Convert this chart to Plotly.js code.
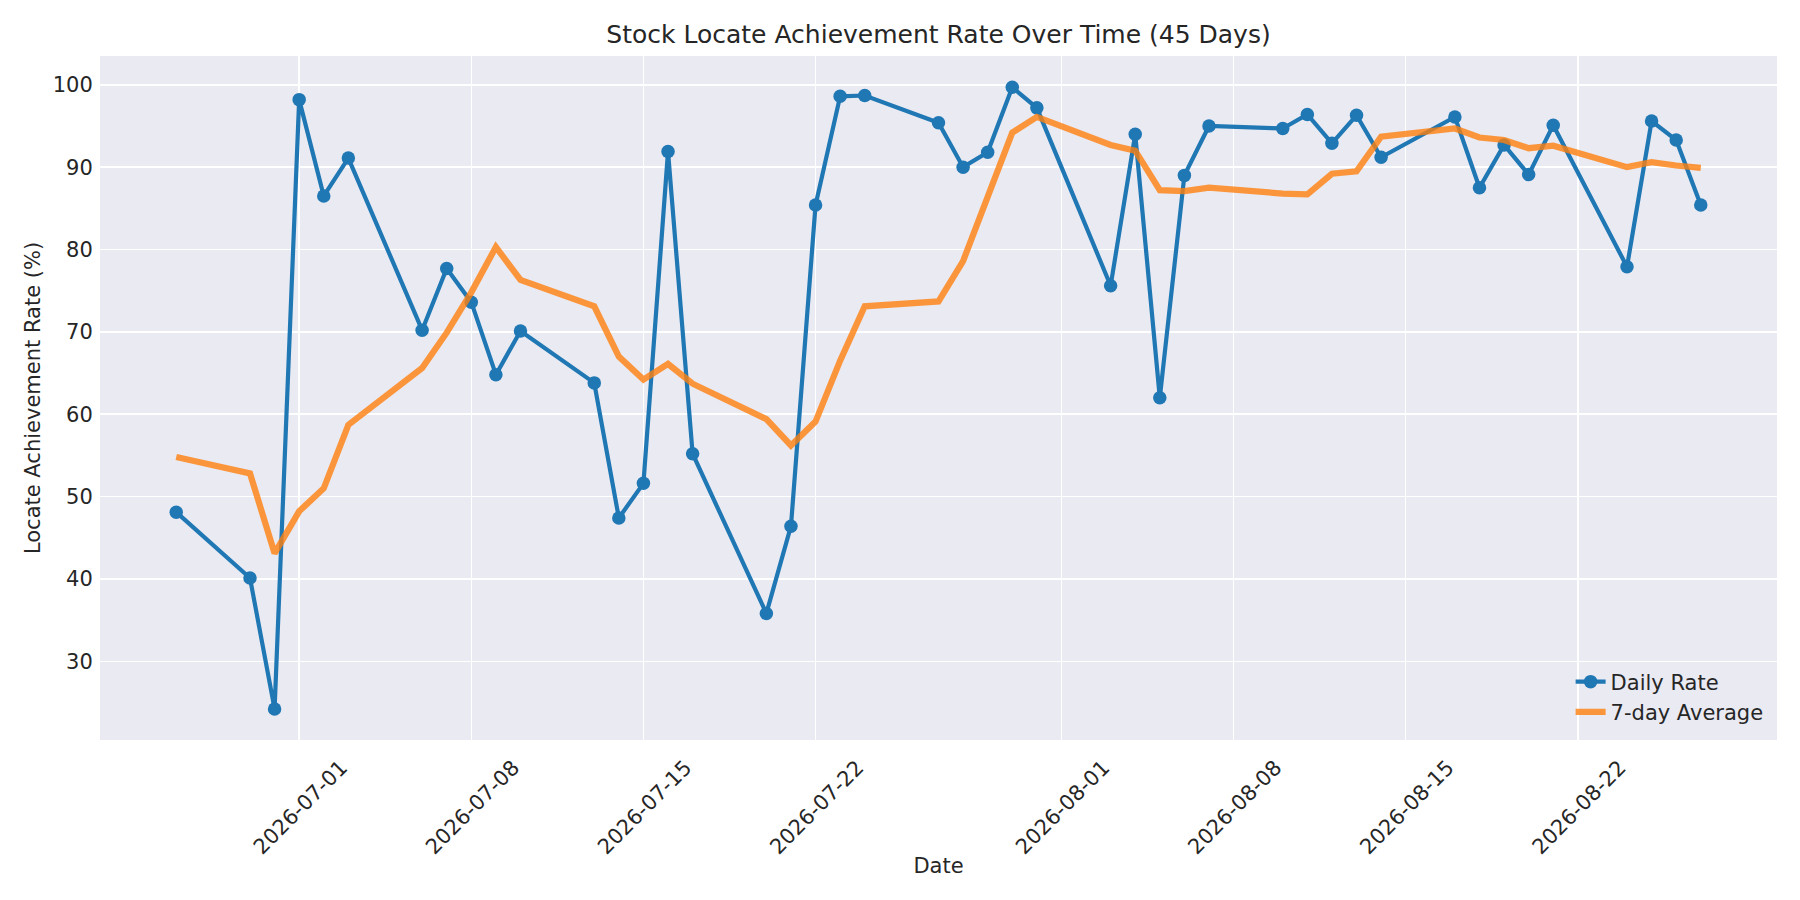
<!DOCTYPE html>
<html>
<head>
<meta charset="utf-8">
<script src="https://cdn.plot.ly/plotly-3.0.1.min.js"></script>
<style>
html,body{margin:0;padding:0;background:#fff;}
#chart{width:1800px;height:900px;}
</style>
</head>
<body>
<div id="chart"></div>
<script>
const dates = [
  "2026-06-26","2026-06-29","2026-06-30","2026-07-01","2026-07-02","2026-07-03",
  "2026-07-06","2026-07-07","2026-07-08","2026-07-09","2026-07-10",
  "2026-07-13","2026-07-14","2026-07-15","2026-07-16","2026-07-17",
  "2026-07-20","2026-07-21","2026-07-22","2026-07-23","2026-07-24",
  "2026-07-27","2026-07-28","2026-07-29","2026-07-30","2026-07-31",
  "2026-08-03","2026-08-04","2026-08-05","2026-08-06","2026-08-07",
  "2026-08-10","2026-08-11","2026-08-12","2026-08-13","2026-08-14",
  "2026-08-17","2026-08-18","2026-08-19","2026-08-20","2026-08-21",
  "2026-08-24","2026-08-25","2026-08-26","2026-08-27"
];
const dailyRate = [
  48.1, 40.1, 24.2, 98.2, 86.5, 91.1,
  70.2, 77.7, 73.6, 64.8, 70.1,
  63.8, 47.4, 51.6, 91.9, 55.2,
  35.8, 46.4, 85.4, 98.6, 98.7,
  95.4, 90.0, 91.8, 99.7, 97.2,
  75.6, 94.0, 62.0, 89.0, 95.0,
  94.7, 96.4, 92.9, 96.3, 91.2,
  96.1, 87.5, 92.7, 89.1, 95.1,
  77.9, 95.6, 93.3, 85.4
];
const avg7 = [
  54.8, 52.8, 43.1, 48.2, 51.0, 58.7,
  65.6, 69.9, 74.8, 80.3, 76.3,
  73.1, 67.0, 64.2, 66.1, 63.7,
  59.4, 56.2, 59.1, 66.5, 73.1,
  73.7, 78.6, 86.5, 94.2, 96.1,
  92.7, 92.0, 87.2, 87.1, 87.5,
  86.8, 86.7, 89.2, 89.5, 93.7,
  94.7, 93.6, 93.3, 92.3, 92.6,
  90.0, 90.6, 90.2, 89.9
];
const xTickVals = ["2026-07-01","2026-07-08","2026-07-15","2026-07-22","2026-08-01","2026-08-08","2026-08-15","2026-08-22"];
const yTickVals = [30, 40, 50, 60, 70, 80, 90, 100];

const font = "DejaVu Sans, sans-serif";
const textColor = "#262626";

const traces = [
  {
    x: dates, y: dailyRate, type: "scatter", mode: "lines+markers", name: "Daily Rate",
    line: {color: "#1f77b4", width: 4.2},
    marker: {color: "#1f77b4", size: 13.5}
  },
  {
    x: dates, y: avg7, type: "scatter", mode: "lines", name: "7-day Average",
    line: {color: "#ff7f0e", width: 6.25}, opacity: 0.8
  }
];

const layout = {
  width: 1800, height: 900,
  margin: {l: 100, r: 23, t: 56, b: 160},
  paper_bgcolor: "#ffffff",
  plot_bgcolor: "#EAEAF2",
  font: {family: font, color: textColor, size: 21},
  title: {
    text: "Stock Locate Achievement Rate Over Time (45 Days)",
    font: {family: font, size: 25, color: textColor},
    x: 0.5, xref: "paper", xanchor: "center",
    y: 1 - 34.5/900, yref: "container", yanchor: "middle"
  },
  xaxis: {
    type: "date",
    range: ["2026-06-22 21:36", "2026-08-30 02:24"],
    tickmode: "array", tickvals: xTickVals, ticktext: xTickVals,
    tickangle: -45,
    ticklabelshift: 42,
    ticks: "outside", ticklen: 6, tickcolor: "rgba(0,0,0,0)",
    tickfont: {family: font, size: 21, color: textColor},
    showgrid: true, gridcolor: "#ffffff", gridwidth: 1.4,
    zeroline: false, showline: false,
    title: {text: "Date", font: {family: font, size: 21, color: textColor}, standoff: 0}
  },
  yaxis: {
    range: [20.43, 103.5],
    tickmode: "array", tickvals: yTickVals, ticktext: yTickVals.map(String),
    ticks: "outside", ticklen: 2, tickcolor: "rgba(0,0,0,0)",
    tickfont: {family: font, size: 21, color: textColor},
    showgrid: true, gridcolor: "#ffffff", gridwidth: 1.4,
    zeroline: false, showline: false,
    title: {text: "Locate Achievement Rate (%)", font: {family: font, size: 21, color: textColor}, standoff: 6}
  },
  legend: {
    x: 0.995, xanchor: "right", y: 0.011, yanchor: "bottom",
    bgcolor: "rgba(0,0,0,0)", borderwidth: 0,
    font: {family: font, size: 21, color: textColor},
    tracegroupgap: 0
  },
  showlegend: true
};

Plotly.newPlot("chart", traces, layout, {displayModeBar: false, staticPlot: true});
</script>
</body>
</html>
